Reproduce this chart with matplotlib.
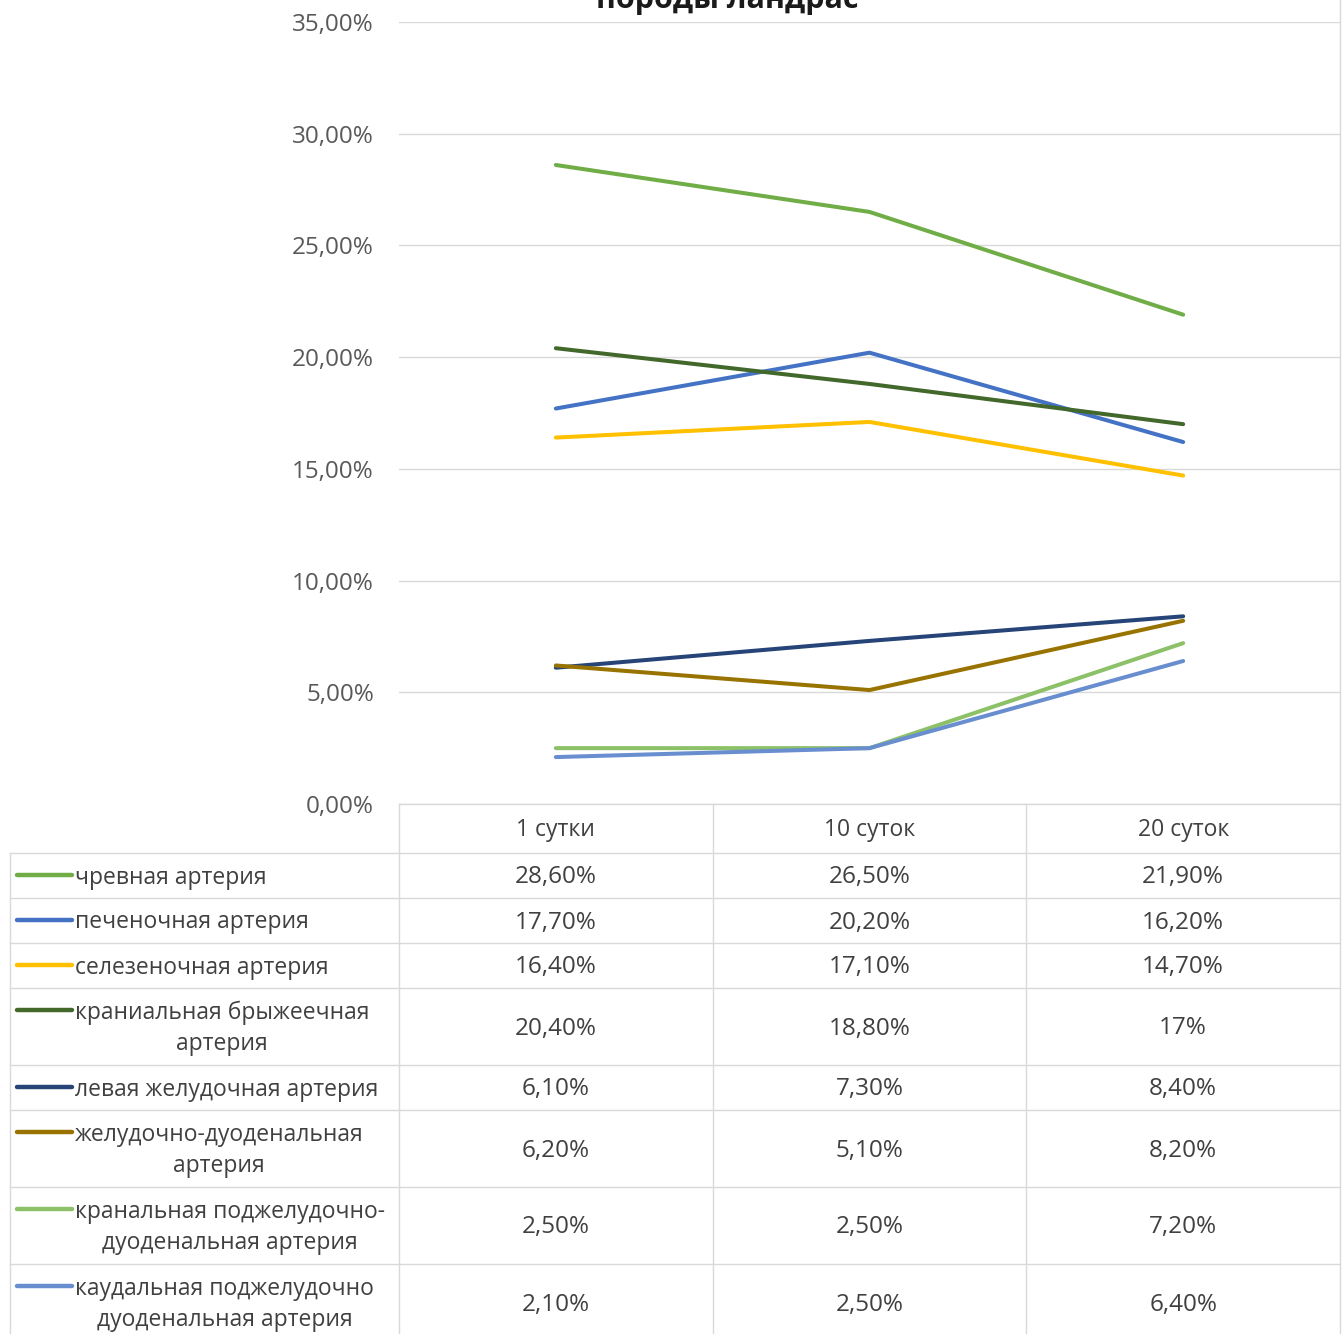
import matplotlib.pyplot as plt
from matplotlib.lines import Line2D

plt.rcParams['font.family'] = ['Open Sans', 'DejaVu Sans']

periods = ["1 сутки", "10 суток", "20 суток"]
series_names = [
    "чревная артерия",
    "печеночная артерия",
    "селезеночная артерия",
    "краниальная брыжеечная\nартерия",
    "левая желудочная артерия",
    "желудочно-дуоденальная\nартерия",
    "кранальная поджелудочно-\nдуоденальная артерия",
    "каудальная поджелудочно\nдуоденальная артерия",
]
chrevnaya = [28.6, 26.5, 21.9]
pechenochnaya = [17.7, 20.2, 16.2]
selezenochnaya = [16.4, 17.1, 14.7]
kranialnaya_bryzh = [20.4, 18.8, 17.0]
levaya_zheludochnaya = [6.1, 7.3, 8.4]
zheludochno_duoden = [6.2, 5.1, 8.2]
kranalnaya_podzhel = [2.5, 2.5, 7.2]
kaudalnaya_podzhel = [2.1, 2.5, 6.4]
series_values = [chrevnaya, pechenochnaya, selezenochnaya, kranialnaya_bryzh,
                 levaya_zheludochnaya, zheludochno_duoden, kranalnaya_podzhel,
                 kaudalnaya_podzhel]
colors = ["#70AD47", "#4472C4", "#FFC000", "#43682B",
          "#264478", "#997300", "#8CC168", "#698ED0"]
yticks = [0, 5, 10, 15, 20, 25, 30, 35]

W, H = 1344, 1334
fig = plt.figure(figsize=(W / 100, H / 100), dpi=100)

grid_c = "#D9D9D9"
text_c = "#404040"
fs = 16.5      # подписи легенды и заголовки столбцов
fs_num = 17.5  # числа
lw = 2.9

# холст в пикселях для таблицы
cv = fig.add_axes([0, 0, 1, 1])
cv.set_xlim(0, W)
cv.set_ylim(H, 0)
cv.axis("off")

# область графика
left, right, top, bottom = 399, 1340, 22, 804
ax = fig.add_axes([left / W, 1 - bottom / H, (right - left) / W, (bottom - top) / H])
ax.patch.set_alpha(0)
for i, vals in enumerate(series_values):
    ax.plot(range(len(periods)), vals, color=colors[i], lw=lw, solid_capstyle="round")
ax.set_xlim(-0.5, len(periods) - 0.5)
ax.set_ylim(0, 35)
ax.set_yticks(yticks)
ax.set_yticklabels([f"{t:.2f}".replace(".", ",") + "%" for t in yticks],
                   color="#595959", fontsize=fs_num)
ax.tick_params(axis="y", length=0, pad=18)
ax.set_xticks([])
ax.grid(axis="y", color=grid_c, lw=1)
ax.set_axisbelow(True)
for s in ax.spines.values():
    s.set_visible(False)

# заголовок (обрезан сверху)
fig.text(727 / W, 1 - 8 / H, "породы ландрас", ha="center", va="baseline",
         fontsize=22, fontweight="bold", color="#1a1a1a")

# таблица данных
col_w = (right - left) / len(periods)
header_h = 49
row_h = [45 if "\n" not in n else 77 for n in series_names]
lab_left = 10
dy = 2  # поправка вертикального центра текста

y0 = bottom
cv.plot([left, right], [y0, y0], color=grid_c, lw=1)
for j, p in enumerate(periods):
    cv.text(left + col_w * (j + 0.5), y0 + header_h / 2 + dy, p, ha="center",
            va="center", fontsize=fs, color=text_c)
y = y0 + header_h
cv.plot([lab_left, right], [y, y], color=grid_c, lw=1)


def fmt(v):
    if float(v).is_integer():
        return f"{int(v)}%"
    return f"{v:.2f}".replace(".", ",") + "%"


for i, name in enumerate(series_names):
    h = row_h[i]
    yc = y + h / 2
    nl = name.count("\n") + 1
    key_y = yc - (nl - 1) * 16 - 1
    cv.add_line(Line2D([17, 72], [key_y, key_y], color=colors[i], lw=lw + 0.3,
                       solid_capstyle="round"))
    cv.text(75, yc + dy, name, ha="left", va="center", multialignment="center",
            fontsize=fs, color=text_c, linespacing=1.4)
    for j in range(len(periods)):
        cv.text(left + col_w * (j + 0.5), yc + dy, fmt(series_values[i][j]),
                ha="center", va="center", fontsize=fs_num, color=text_c)
    y += h
    cv.plot([lab_left, right], [y, y], color=grid_c, lw=1)

for j in range(len(periods) + 1):
    cv.plot([left + col_w * j] * 2, [bottom, y], color=grid_c, lw=1)
cv.plot([lab_left, lab_left], [y0 + header_h, y], color=grid_c, lw=1)
cv.plot([right, right], [0, bottom], color=grid_c, lw=1)

fig.savefig("out.png", dpi=100)
